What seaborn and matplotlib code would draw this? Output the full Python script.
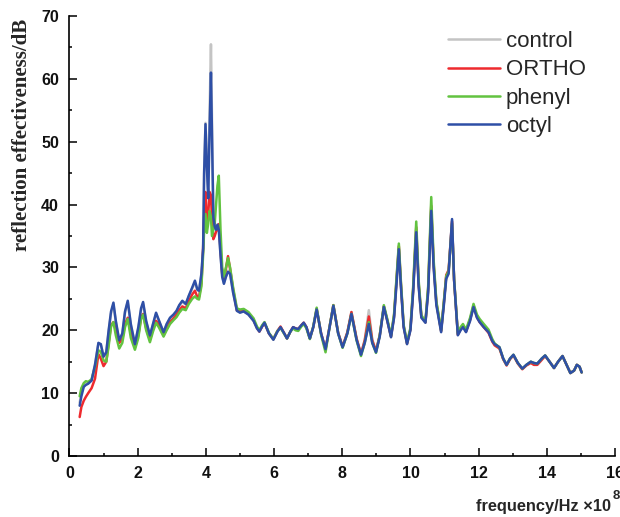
import numpy as np
import pandas as pd
import matplotlib
matplotlib.use("Agg")
import matplotlib.pyplot as plt
import seaborn as sns

freq = [0.30, 0.35, 0.42, 0.48, 0.55, 0.65, 0.75, 0.85, 0.92, 1.00,
        1.08, 1.15, 1.22, 1.29, 1.36, 1.46, 1.55, 1.63, 1.71, 1.80,
        1.92, 2.02, 2.10, 2.16, 2.25, 2.36, 2.45, 2.54, 2.63, 2.76,
        2.85, 2.95, 3.05, 3.14, 3.22, 3.31, 3.41, 3.50, 3.60, 3.68,
        3.75, 3.80, 3.87, 3.92, 3.95, 3.99, 4.03, 4.07, 4.11, 4.15,
        4.18, 4.22, 4.26, 4.30, 4.34, 4.38, 4.43, 4.48, 4.53, 4.59,
        4.65, 4.71, 4.80, 4.91, 5.00, 5.11, 5.25, 5.40, 5.50, 5.57,
        5.65, 5.72, 5.85, 5.98, 6.10, 6.19, 6.30, 6.38, 6.48, 6.56,
        6.63, 6.71, 6.80, 6.87, 6.95, 7.05, 7.15, 7.25, 7.38, 7.51,
        7.63, 7.74, 7.88, 8.01, 8.15, 8.27, 8.42, 8.55, 8.66, 8.78,
        8.88, 8.99, 9.10, 9.22, 9.32, 9.43, 9.52, 9.60, 9.66, 9.72,
        9.80, 9.90, 10.00, 10.08, 10.17, 10.24, 10.32, 10.44, 10.52, 10.61,
        10.68, 10.76, 10.90, 10.98, 11.05, 11.12, 11.22, 11.28, 11.39, 11.47,
        11.54, 11.63, 11.75, 11.85, 11.95, 12.03, 12.15, 12.29, 12.40, 12.47,
        12.61, 12.72, 12.82, 12.92, 13.02, 13.15, 13.28, 13.40, 13.53, 13.62,
        13.72, 13.85, 13.95, 14.08, 14.21, 14.33, 14.46, 14.58, 14.69, 14.80,
        14.88, 14.96, 15.02]

control = [8.5, 10.0, 11.2, 11.4, 11.6, 12.1, 14.6, 17.9, 17.7, 15.9,
           16.6, 19.8, 22.7, 24.1, 21.3, 18.3, 19.4, 22.8, 24.5, 20.8,
           17.8, 20.3, 23.2, 24.2, 21.3, 19.1, 20.9, 22.6, 21.4, 19.6,
           20.9, 21.9, 22.4, 23.0, 23.9, 24.5, 24.1, 25.4, 26.6, 27.6,
           26.4, 26.2, 28.8, 33.0, 45.5, 53.0, 46.5, 42.0, 55.0, 65.5,
           54.0, 38.5, 36.5, 36.0, 36.8, 36.2, 32.0, 28.6, 27.5, 28.6,
           29.5, 29.1, 26.0, 23.1, 22.9, 23.0, 22.5, 21.5, 20.3, 19.8,
           20.6, 21.2, 19.5, 18.5, 19.8, 20.5, 19.5, 18.7, 19.8, 20.5,
           20.3, 20.2, 20.8, 21.2, 20.5, 18.7, 20.5, 23.4, 19.5, 17.0,
           20.6, 24.0, 19.6, 17.4, 19.6, 22.9, 18.7, 16.2, 18.5, 23.2,
           18.5, 16.7, 19.2, 23.8, 21.6, 18.9, 22.2, 28.4, 33.2, 27.3,
           20.6, 17.8, 20.1, 26.4, 36.0, 27.3, 22.1, 21.2, 26.4, 39.6,
           30.3, 24.2, 19.8, 24.3, 28.6, 29.4, 37.5, 28.0, 19.3, 20.1,
           20.6, 19.8, 21.7, 23.9, 22.2, 21.4, 20.6, 19.8, 18.4, 17.8,
           17.3, 15.5, 14.5, 15.5, 16.1, 14.8, 13.9, 14.5, 15.0, 14.8,
           14.7, 15.5, 16.0, 15.0, 14.0, 15.0, 15.9, 14.5, 13.2, 13.6,
           14.5, 14.2, 13.3]

ortho = [6.2, 7.8, 8.8, 9.4, 10.0, 10.8, 12.3, 16.2, 15.5, 14.3,
         15.0, 18.0, 20.8, 21.3, 20.0, 18.0, 18.6, 21.0, 22.0, 19.5,
         17.3, 19.2, 22.0, 22.6, 20.3, 18.5, 20.2, 21.5, 20.9, 19.3,
         20.3, 21.3, 21.9, 22.5, 23.2, 23.8, 23.5, 24.6, 25.7, 26.3,
         25.3, 25.3, 27.5, 33.0, 38.0, 42.0, 37.0, 38.5, 42.0, 41.5,
         37.5, 34.5, 35.0, 35.7, 36.0, 36.9, 33.0, 29.0, 28.0, 29.8,
         31.8, 29.8, 26.5, 23.2, 23.0, 23.1, 22.6, 21.6, 20.4, 19.8,
         20.6, 21.2, 19.5, 18.6, 19.9, 20.6, 19.5, 18.7, 19.8, 20.5,
         20.3, 20.2, 20.8, 21.2, 20.5, 18.7, 20.5, 23.4, 19.5, 17.0,
         20.6, 24.0, 19.6, 17.4, 19.7, 22.9, 18.7, 16.2, 18.4, 22.2,
         18.4, 16.7, 19.2, 23.8, 21.6, 19.0, 22.3, 28.5, 33.4, 27.4,
         20.7, 17.9, 20.2, 26.5, 36.4, 27.5, 22.2, 21.3, 26.6, 39.8,
         30.6, 24.4, 19.9, 24.4, 28.8, 29.6, 37.3, 28.0, 19.3, 20.2,
         20.7, 19.8, 21.7, 23.9, 22.1, 21.3, 20.5, 19.6, 18.2, 17.6,
         17.1, 15.4, 14.4, 15.4, 16.0, 14.7, 13.8, 14.4, 14.8, 14.5,
         14.5, 15.3, 15.9, 15.0, 14.0, 15.0, 15.9, 14.5, 13.2, 13.6,
         14.5, 14.2, 13.3]

phenyl = [9.5, 10.8, 11.6, 11.9, 11.8, 12.2, 14.2, 16.8, 16.6, 15.2,
          15.0, 17.5, 20.6, 21.3, 19.2, 17.1, 18.0, 20.5, 21.8, 18.8,
          16.9, 18.8, 21.8, 22.5, 20.0, 18.1, 19.8, 21.2, 20.4, 19.0,
          20.0, 21.0, 21.6, 22.1, 22.8, 23.4, 23.2, 24.2, 25.0, 25.4,
          25.0, 24.9, 27.0, 32.0, 36.0, 38.5, 35.5, 37.0, 39.0, 38.0,
          35.0, 36.0, 37.0, 40.0, 43.0, 44.6, 36.0, 30.0, 28.5, 30.0,
          31.5, 30.0, 26.8, 23.5, 23.3, 23.4, 22.9, 21.9, 20.6, 20.0,
          20.8, 21.3, 19.6, 18.6, 19.9, 20.4, 19.4, 18.7, 19.8, 20.3,
          20.0, 19.9, 20.6, 21.0, 20.3, 18.6, 20.6, 23.6, 19.3, 16.5,
          20.6, 24.0, 19.5, 17.2, 19.5, 22.6, 18.4, 15.9, 18.0, 21.3,
          18.0, 16.4, 19.2, 24.0, 21.8, 19.1, 22.6, 29.0, 33.8, 27.8,
          20.9, 18.0, 20.4, 27.0, 37.3, 28.0, 22.4, 21.4, 27.0, 41.2,
          31.2, 24.6, 20.0, 24.5, 28.6, 29.4, 37.0, 28.2, 19.5, 20.5,
          21.0, 20.1, 22.0, 24.2, 22.5, 21.8, 21.0, 20.1, 18.6, 17.9,
          17.3, 15.5, 14.5, 15.5, 16.1, 14.8, 13.9, 14.5, 15.0, 14.8,
          14.7, 15.5, 16.0, 15.0, 14.0, 15.0, 15.9, 14.5, 13.2, 13.6,
          14.5, 14.2, 13.3]

octyl = [8.0, 9.5, 11.0, 11.3, 11.5, 12.0, 14.5, 18.0, 17.8, 15.8,
         16.5, 20.0, 23.0, 24.4, 21.5, 18.4, 19.5, 23.0, 24.7, 21.0,
         17.8, 20.5, 23.5, 24.5, 21.5, 19.2, 21.0, 22.8, 21.5, 19.7,
         21.0, 22.0, 22.5, 23.1, 24.0, 24.7, 24.2, 25.5, 26.8, 27.9,
         26.5, 26.3, 29.0, 33.0, 45.0, 52.8, 46.0, 41.0, 52.0, 61.0,
         51.0, 38.0, 36.5, 36.0, 36.8, 36.0, 32.0, 28.5, 27.4, 28.5,
         29.3, 29.0, 26.0, 23.1, 22.8, 23.0, 22.5, 21.5, 20.3, 19.8,
         20.6, 21.2, 19.5, 18.5, 19.8, 20.5, 19.5, 18.7, 19.8, 20.5,
         20.3, 20.2, 20.8, 21.2, 20.5, 18.7, 20.5, 23.3, 19.5, 17.0,
         20.5, 23.9, 19.5, 17.3, 19.5, 22.6, 18.5, 16.1, 18.0, 21.0,
         18.0, 16.5, 19.0, 23.7, 21.5, 18.9, 22.0, 28.0, 32.9, 27.0,
         20.5, 17.8, 20.0, 26.0, 35.6, 27.0, 22.0, 21.2, 26.0, 39.0,
         30.0, 24.0, 19.7, 24.0, 28.2, 29.0, 37.7, 28.0, 19.2, 20.0,
         20.5, 19.7, 21.5, 23.7, 22.0, 21.3, 20.5, 19.7, 18.3, 17.8,
         17.3, 15.5, 14.5, 15.5, 16.1, 14.8, 13.9, 14.5, 15.0, 14.8,
         14.7, 15.5, 16.0, 15.0, 14.0, 15.0, 15.9, 14.5, 13.2, 13.6,
         14.5, 14.2, 13.3]

series_names = ["control", "ORTHO", "phenyl", "octyl"]
series_values = [control, ortho, phenyl, octyl]
colors = ["#c4c4c4", "#ee2a2e", "#62c340", "#2e4fa6"]
x_ticks = [0, 2, 4, 6, 8, 10, 12, 14, 16]
y_ticks = [0, 10, 20, 30, 40, 50, 60, 70]

for v in series_values:
    assert len(v) == len(freq), (len(v), len(freq))

df = pd.concat([pd.DataFrame({"freq": freq, "value": v, "series": n})
                for n, v in zip(series_names, series_values)], ignore_index=True)

sns.set_theme(style="ticks")
plt.rcParams["font.family"] = ["Liberation Sans", "DejaVu Sans"]

fig = plt.figure(figsize=(6.2, 5.17), dpi=100)
ax = fig.add_axes([0.112, 0.118, 0.880, 0.851])

sns.lineplot(data=df, x="freq", y="value", hue="series", hue_order=series_names,
             palette=dict(zip(series_names, colors)), estimator=None, sort=False,
             linewidth=1.8, ax=ax, legend=True)

ax.set_xlim(0, 16)
ax.set_ylim(0, 70)
ax.set_xticks(x_ticks)
ax.set_yticks(y_ticks)
ax.set_xticks([1, 3, 5, 7, 9, 11, 13, 15], minor=True)
ax.set_yticks([5, 15, 25, 35, 45, 55, 65], minor=True)
ax.set_xticklabels([str(t) for t in x_ticks])
ax.set_yticklabels([str(t) for t in y_ticks])
for lab in ax.get_xticklabels() + ax.get_yticklabels():
    lab.set_fontweight("bold")
    lab.set_fontsize(11.5)
    lab.set_color("#111111")
ax.tick_params(which="major", direction="in", length=5.5, width=1.1, color="black", pad=7.5)
ax.tick_params(which="minor", direction="in", length=2.5, width=1.1, color="black")
sns.despine(ax=ax)
for s in ["left", "bottom"]:
    ax.spines[s].set_linewidth(1.2)
    ax.spines[s].set_color("black")
ax.set_xlabel("")
ax.set_ylabel("")

handles, labels = ax.get_legend_handles_labels()
leg = ax.legend(handles, labels, loc="upper left", bbox_to_anchor=(0.694, 0.966),
                frameon=False, fontsize=16, handlelength=2.35, handletextpad=0.25,
                labelspacing=0.33, borderpad=0, borderaxespad=0)
for line in leg.get_lines():
    line.set_linewidth(1.8)

fig.text(0.035, 0.739, "reflection effectiveness/dB", rotation=90, ha="center", va="center",
         fontsize=15, fontweight="bold", family=["Liberation Serif", "DejaVu Serif"])
fig.text(0.768, 0.012, "frequency/Hz \u00d710", ha="left", va="baseline",
         fontsize=11.8, fontweight="bold")
fig.text(0.988, 0.034, "8", ha="left", va="baseline", fontsize=9.5, fontweight="bold")

fig.savefig("out.png", dpi=100)
